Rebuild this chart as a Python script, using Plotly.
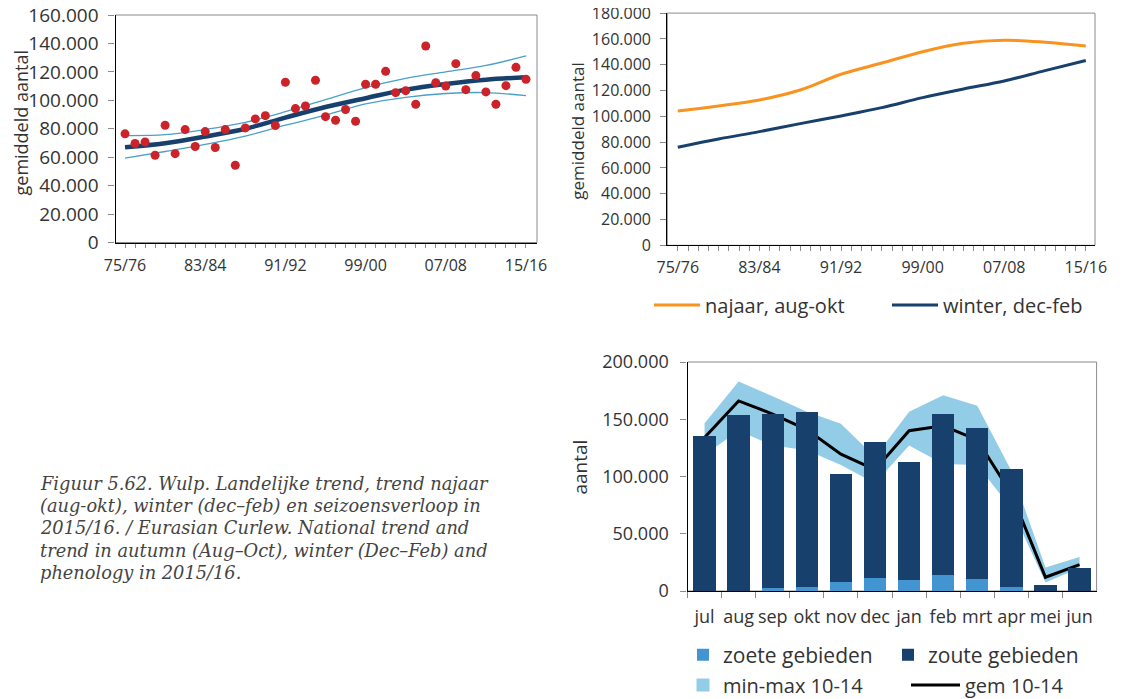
import plotly.graph_objects as go

# ---------------- data ----------------
seasons = ["75/76", "76/77", "77/78", "78/79", "79/80", "80/81", "81/82", "82/83", "83/84", "84/85",
           "85/86", "86/87", "87/88", "88/89", "89/90", "90/91", "91/92", "92/93", "93/94", "94/95",
           "95/96", "96/97", "97/98", "98/99", "99/00", "00/01", "01/02", "02/03", "03/04", "04/05",
           "05/06", "06/07", "07/08", "08/09", "09/10", "10/11", "11/12", "12/13", "13/14", "14/15",
           "15/16"]
label_seasons = ["75/76", "83/84", "91/92", "99/00", "07/08", "15/16"]

national_counts = [76400, 69600, 70700, 61400, 82500, 62500, 79400, 67500, 78000, 66800,
                   79400, 54300, 80600, 86900, 89200, 82200, 112700, 94200, 96000, 114100,
                   88500, 86000, 93500, 85300, 111300, 111300, 120400, 105400, 106800, 97200,
                   138200, 112400, 110100, 125800, 107500, 117400, 105900, 97200, 110300, 123200,
                   114800]

trend_seasons = ["75/76", "79/80", "83/84", "87/88", "91/92", "95/96", "99/00", "03/04", "07/08", "11/12", "15/16"]
trend = [67000, 69800, 74500, 80000, 87800, 95300, 101500, 107500, 111500, 114500, 116200]
trend_upper = [75200, 75800, 79500, 84500, 92000, 100500, 109000, 115500, 120000, 124500, 131200]
trend_lower = [59300, 64000, 69000, 74800, 82500, 89500, 97500, 102100, 104800, 105400, 103300]

autumn_trend = [104100, 108000, 112700, 120400, 132600, 141300, 150100, 156600, 158900, 157400, 154500]
winter_trend = [76000, 82400, 88100, 94300, 100300, 106700, 114500, 121200, 127400, 135400, 143200]

months = ["jul", "aug", "sep", "okt", "nov", "dec", "jan", "feb", "mrt", "apr", "mei", "jun"]
fresh = [0, 0, 2600, 3800, 8100, 11300, 9900, 14000, 10500, 3500, 0, 0]
saline = [135500, 153600, 151900, 152700, 94300, 118700, 102700, 140200, 131700, 102700, 5500, 19700]
mean_10_14 = [134000, 166000, 154500, 141000, 119500, 106000, 140000, 144300, 132000, 85000, 12000, 23000]
min_10_14 = [119000, 140000, 127000, 123000, 110000, 94000, 127000, 111000, 110000, 72000, 7500, 20000]
max_10_14 = [146500, 183000, 170000, 156500, 146000, 117000, 156500, 171000, 161700, 105000, 20600, 29600]

caption_lines = [
    "Figuur 5.62. Wulp. Landelijke trend, trend najaar",
    "(aug-okt), winter (dec–feb) en seizoensverloop in",
    "2015/16. / Eurasian Curlew. National trend and",
    "trend in autumn (Aug–Oct), winter (Dec–Feb) and",
    "phenology in 2015/16.",
]

# ---------------- styling ----------------
OFF = 8                      # page body margin of the html page
W, H = 1122 - OFF, 699 - OFF
NAVY = "#17406D"
RED = "#CC2229"
CI = "#4AA0C8"
ORANGE = "#F7931E"
FRESH = "#4395D1"
BAND = "#93CCE7"
TXT = "#333333"
FONT = "Open Sans"


def fx(px):
    return (px - OFF) / W


def fy(py):
    return 1 - (py - OFF) / H


def px_x(a, b):
    return [fx(a), fx(b)]


def px_y(top, bottom):
    return [fy(bottom), fy(top)]


fig = go.Figure()

# ---- top-left: national trend ----
fig.add_trace(go.Scatter(x=trend_seasons, y=trend_upper, mode="lines", line=dict(color=CI, width=1.3, shape="spline"),
                         showlegend=False, xaxis="x", yaxis="y"))
fig.add_trace(go.Scatter(x=trend_seasons, y=trend_lower, mode="lines", line=dict(color=CI, width=1.3, shape="spline"),
                         showlegend=False, xaxis="x", yaxis="y"))
fig.add_trace(go.Scatter(x=trend_seasons, y=trend, mode="lines", line=dict(color=NAVY, width=4.5, shape="spline"),
                         showlegend=False, xaxis="x", yaxis="y"))
fig.add_trace(go.Scatter(x=seasons, y=national_counts, mode="markers", marker=dict(color=RED, size=9),
                         showlegend=False, xaxis="x", yaxis="y"))

# ---- top-right: autumn / winter trend ----
fig.add_trace(go.Scatter(x=trend_seasons, y=autumn_trend, mode="lines", name="najaar, aug-okt",
                         line=dict(color=ORANGE, width=3, shape="spline"), xaxis="x2", yaxis="y2", legend="legend"))
fig.add_trace(go.Scatter(x=trend_seasons, y=winter_trend, mode="lines", name="winter, dec-feb",
                         line=dict(color=NAVY, width=3, shape="spline"), xaxis="x2", yaxis="y2", legend="legend"))

# ---- bottom-right: phenology ----
fig.add_trace(go.Scatter(x=months, y=min_10_14, mode="lines", line=dict(width=0, color=BAND),
                         showlegend=False, xaxis="x3", yaxis="y3"))
fig.add_trace(go.Scatter(x=months, y=max_10_14, mode="lines", line=dict(width=0, color=BAND), fill="tonexty",
                         fillcolor=BAND, showlegend=False, xaxis="x3", yaxis="y3"))
fig.add_trace(go.Bar(x=months, y=fresh, name="zoete gebieden", marker=dict(color=FRESH, line=dict(width=0)),
                     xaxis="x3", yaxis="y4", legend="legend2"))
fig.add_trace(go.Bar(x=months, y=saline, name="zoute gebieden", marker=dict(color=NAVY, line=dict(width=0)),
                     xaxis="x3", yaxis="y4", legend="legend2"))
# legend swatch for the min-max band
fig.add_trace(go.Scatter(x=[None], y=[None], mode="markers", name="min-max 10-14",
                         marker=dict(symbol="square", size=13, color=BAND), xaxis="x3", yaxis="y3", legend="legend3"))
fig.add_trace(go.Scatter(x=months, y=mean_10_14, mode="lines", name="gem 10-14", line=dict(color="black", width=3),
                         xaxis="x3", yaxis="y3", legend="legend4"))

axis_common = dict(showgrid=False, zeroline=False, showline=True, linecolor="black", linewidth=1.3,
                   ticks="outside", tickcolor="#8a8a8a", tickwidth=1, automargin=False,
                   ticklabeloverflow="allow")

top_ticktext = [s if s in label_seasons else "" for s in seasons]

leg_common = dict(orientation="h", xanchor="left", yanchor="middle", entrywidthmode="pixels",
                  bgcolor="rgba(0,0,0,0)", traceorder="normal")

fig.update_layout(
    width=W, height=H, margin=dict(l=0, r=0, t=0, b=0, autoexpand=False),
    paper_bgcolor="white", plot_bgcolor="white",
    separators=",.",
    font=dict(family=FONT, color=TXT),
    barmode="stack", bargap=0.345,
    xaxis=dict(axis_common, domain=px_x(115.5, 537), anchor="y", type="category",
               categoryorder="array", categoryarray=seasons, range=[-0.95, 41.1],
               tickmode="array", tickvals=seasons, ticktext=top_ticktext, ticklen=4, tickangle=0,
               tickfont=dict(size=16), ticklabelstandoff=4),
    yaxis=dict(axis_common, domain=px_y(15, 242.5), anchor="x", range=[0, 160000], dtick=20000,
               tickformat=",d", ticklen=6, tickfont=dict(size=19), ticklabelstandoff=6),
    xaxis2=dict(axis_common, domain=px_x(667.3, 1095), anchor="y2", type="category",
                categoryorder="array", categoryarray=seasons, range=[-1.03, 40.9],
                tickmode="array", tickvals=seasons, ticktext=top_ticktext, ticklen=5, tickangle=0,
                tickfont=dict(size=16), ticklabelstandoff=2),
    yaxis2=dict(axis_common, domain=px_y(13.1, 245.3), anchor="x2", range=[0, 180000], dtick=20000,
                tickformat=",d", ticklen=6, tickfont=dict(size=16), ticklabelstandoff=6),
    xaxis3=dict(axis_common, domain=px_x(687.5, 1096.6), anchor="y3", type="category",
                categoryorder="array", categoryarray=months, range=[-0.5, 11.5], tickangle=0,
                tickson="boundaries", ticklen=6, tickfont=dict(size=18), ticklabelstandoff=9),
    yaxis3=dict(axis_common, domain=px_y(362, 591), anchor="x3", range=[0, 200000], dtick=50000,
                tickformat=",d", ticklen=6, tickfont=dict(size=18), ticklabelstandoff=8),
    yaxis4=dict(overlaying="y3", anchor="x3", range=[0, 200000], visible=False),
    legend=dict(leg_common, x=fx(649), y=fy(305), entrywidth=177, itemwidth=46, font=dict(size=20)),
    legend2=dict(leg_common, x=fx(683), y=fy(655), entrywidth=160, font=dict(size=21)),
    legend3=dict(leg_common, x=fx(683), y=fy(685), font=dict(size=20)),
    legend4=dict(leg_common, x=fx(906), y=fy(685), itemwidth=49, font=dict(size=20)),
)

# plot-area frames (light grey top/right borders)
for xr, yr in [("x", "y"), ("x2", "y2"), ("x3", "y3")]:
    fig.add_shape(type="rect", xref=f"{xr} domain", yref=f"{yr} domain", x0=0, x1=1, y0=0, y1=1,
                  line=dict(color="#8a8a8a", width=1), layer="below")

# axis titles
for txt, xp, yp, sz in [("gemiddeld aantal", 20, 123.5, 18), ("gemiddeld aantal", 578, 131.7, 17),
                        ("aantal", 580, 467.5, 19)]:
    fig.add_annotation(text=txt, x=fx(xp), y=fy(yp), xref="paper", yref="paper", showarrow=False,
                       textangle=-90, xanchor="center", yanchor="middle", font=dict(size=sz, color=TXT))

# caption
for i, line in enumerate(caption_lines):
    fig.add_annotation(text=line, x=fx(38), y=fy(483 + 22.4 * i), xref="paper", yref="paper",
                       showarrow=False, xanchor="left", yanchor="middle",
                       font=dict(size=17.8, color="#444444", style="italic", family="DejaVu Serif"))

fig.write_html("out.html")
